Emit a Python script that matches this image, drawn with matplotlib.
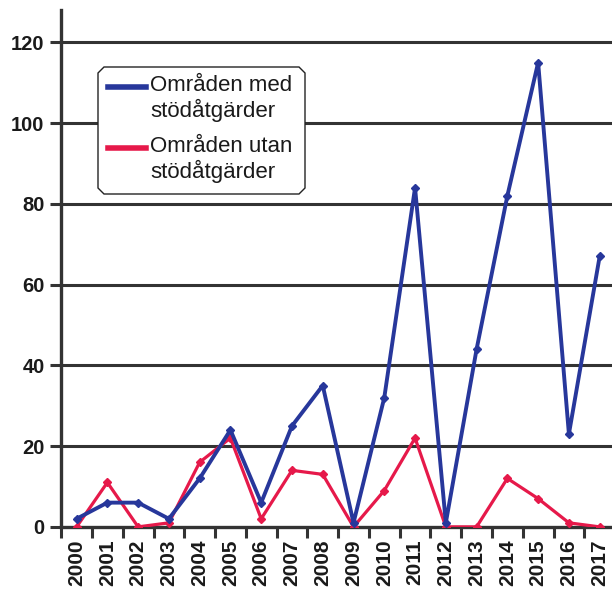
import numpy as np
import matplotlib
matplotlib.use("Agg")
import matplotlib.pyplot as plt
from matplotlib.lines import Line2D
from matplotlib.patches import Polygon

plt.rcParams['font.family'] = ['Liberation Sans', 'DejaVu Sans']

years = [str(y) for y in range(2000, 2018)]
med = [2, 6, 6, 2, 12, 24, 6, 25, 35, 1, 32, 84, 1, 44, 82, 115, 23, 67]
utan = [0, 11, 0, 1, 16, 22, 2, 14, 13, 0, 9, 22, 0, 0, 12, 7, 1, 0]
yticks = [0, 20, 40, 60, 80, 100, 120]

blue = '#27379b'
red = '#e6194a'
dark = '#333333'

fig = plt.figure(figsize=(6.12, 5.9), dpi=100)
ax = fig.add_axes([0.1, 0.107, 0.905, 0.876])

x = np.arange(len(years))
ax.plot(x, utan, color=red, lw=2.3, marker='D', ms=4.5, zorder=3)
ax.plot(x, med, color=blue, lw=2.8, marker='D', ms=4.5, zorder=4)

ax.set_xlim(-0.5, len(years) - 0.5)
ax.set_ylim(0, 128)
ax.set_yticks(yticks)
ax.set_yticklabels([str(v) for v in yticks], fontsize=14.5, fontweight='bold', color='#1a1a1a')
ax.set_xticks(x)
ax.set_xticklabels(years, rotation=90, fontsize=15, fontweight='bold', color='#1a1a1a')
ax.set_xticks(np.arange(-0.5, len(years)), minor=True)
ax.tick_params(axis='x', which='major', length=0, pad=9)
ax.tick_params(axis='x', which='minor', length=8, width=2.2, color=dark, direction='out')
ax.tick_params(axis='y', length=8, width=2.2, color=dark, pad=4)

for v in yticks[1:]:
    ax.axhline(v, color=dark, lw=2.2, zorder=1)

for s in ['top', 'right']:
    ax.spines[s].set_visible(False)
ax.spines['left'].set_linewidth(2.4)
ax.spines['left'].set_color(dark)
ax.spines['bottom'].set_linewidth(2.4)
ax.spines['bottom'].set_color(dark)

# legend box with cut corners
W, H = 612.0, 590.0
x0, x1, y0, y1, c = 98, 305, 67, 194, 6
pts = [(x0 + c, y0), (x1 - c, y0), (x1, y0 + c), (x1, y1 - c), (x1 - c, y1),
       (x0 + c, y1), (x0, y1 - c), (x0, y0 + c)]
pts = [(px / W, 1 - py / H) for px, py in pts]
fig.add_artist(Polygon(pts, closed=True, facecolor='white', edgecolor='#222222',
                       lw=1.0, transform=fig.transFigure, zorder=5))

entries = [(blue, 'Områden med\nstödåtgärder', 87), (red, 'Områden utan\nstödåtgärder', 148)]
for col, lab, yy in entries:
    fig.add_artist(Line2D([108 / W, 146 / W], [1 - yy / H, 1 - yy / H], color=col,
                          lw=4, transform=fig.transFigure, zorder=6))
    fig.text(150 / W, 1 - (yy - 12) / H, lab, fontsize=16, va='top', ha='left',
             color='#1a1a1a', linespacing=1.15, zorder=6)

fig.savefig('out.png', dpi=100)
